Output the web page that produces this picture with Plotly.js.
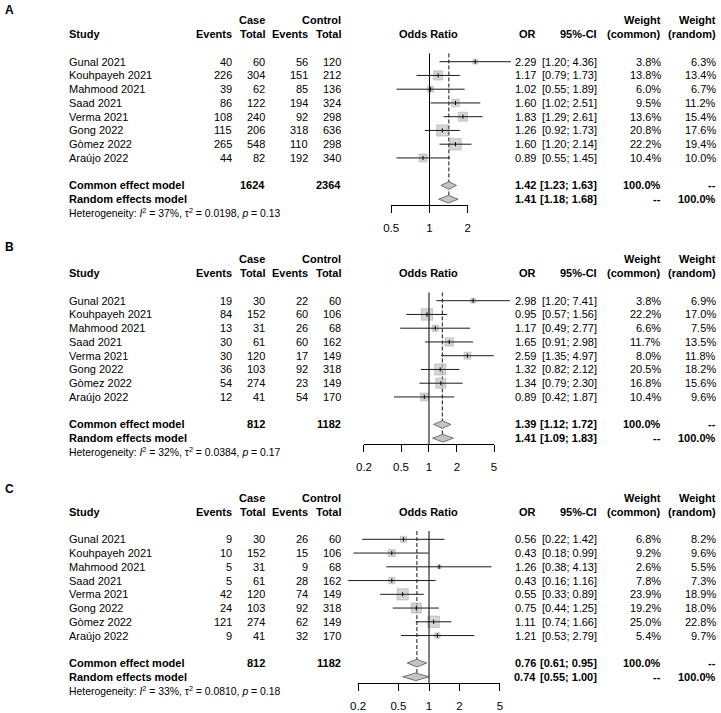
<!DOCTYPE html>
<html><head><meta charset="utf-8">
<script src="https://cdn.plot.ly/plotly-3.0.1.min.js"></script>
<style>body{margin:0;background:#fff}#chart{width:721px;height:713px}</style>
</head><body><div id="chart"></div>
<script>
// ---------- data ----------
const studies = ["Gunal 2021","Kouhpayeh 2021","Mahmood 2021","Saad 2021","Verma 2021","Gong 2022","Gòmez 2022","Araújo 2022"];
const panelLabels = ["A","B","C"];

// Panel A
const caseEventsA = [40,226,39,86,108,115,265,44];
const caseTotalA  = [60,304,62,122,240,206,548,82];
const ctrlEventsA = [56,151,85,194,92,318,110,192];
const ctrlTotalA  = [120,212,136,324,298,636,298,340];
const orA  = [2.29,1.17,1.02,1.60,1.83,1.26,1.60,0.89];
const loA  = [1.20,0.79,0.55,1.02,1.29,0.92,1.20,0.55];
const hiA  = [4.36,1.73,1.89,2.51,2.61,1.73,2.14,1.45];
const wComA = [3.8,13.8,6.0,9.5,13.6,20.8,22.2,10.4];
const wRanA = [6.3,13.4,6.7,11.2,15.4,17.6,19.4,10.0];
const commonA = [1.42,1.23,1.63];
const randomA = [1.41,1.18,1.68];
const totalsA = [1624,2364];
const hetA = ["37%","0.0198","0.13"];
const ticksA = [0.5,1,2];

// Panel B
const caseEventsB = [19,84,13,30,30,36,54,12];
const caseTotalB  = [30,152,31,61,120,103,274,41];
const ctrlEventsB = [22,60,26,60,17,92,23,54];
const ctrlTotalB  = [60,106,68,162,149,318,149,170];
const orB  = [2.98,0.95,1.17,1.65,2.59,1.32,1.34,0.89];
const loB  = [1.20,0.57,0.49,0.91,1.35,0.82,0.79,0.42];
const hiB  = [7.41,1.56,2.77,2.98,4.97,2.12,2.30,1.87];
const wComB = [3.8,22.2,6.6,11.7,8.0,20.5,16.8,10.4];
const wRanB = [6.9,17.0,7.5,13.5,11.8,18.2,15.6,9.6];
const commonB = [1.39,1.12,1.72];
const randomB = [1.41,1.09,1.83];
const totalsB = [812,1182];
const hetB = ["32%","0.0384","0.17"];
const ticksB = [0.2,0.5,1,2,5];

// Panel C
const caseEventsC = [9,10,5,5,42,24,121,9];
const caseTotalC  = [30,152,31,61,120,103,274,41];
const ctrlEventsC = [26,15,9,28,74,92,62,32];
const ctrlTotalC  = [60,106,68,162,149,318,149,170];
const orC  = [0.56,0.43,1.26,0.43,0.55,0.75,1.11,1.21];
const loC  = [0.22,0.18,0.38,0.16,0.33,0.44,0.74,0.53];
const hiC  = [1.42,0.99,4.13,1.16,0.89,1.25,1.66,2.79];
const wComC = [6.8,9.2,2.6,7.8,23.9,19.2,25.0,5.4];
const wRanC = [8.2,9.6,5.5,7.3,18.9,18.0,22.8,9.7];
const commonC = [0.76,0.61,0.95];
const randomC = [0.74,0.55,1.00];
const totalsC = [812,1182];
const hetC = ["33%","0.0810","0.18"];
const ticksC = [0.2,0.5,1,2,5];

const panels = [
  {ce:caseEventsA, ct:caseTotalA, ke:ctrlEventsA, kt:ctrlTotalA, or:orA, lo:loA, hi:hiA, wc:wComA, wr:wRanA, com:commonA, ran:randomA, tot:totalsA, het:hetA, ticks:ticksA},
  {ce:caseEventsB, ct:caseTotalB, ke:ctrlEventsB, kt:ctrlTotalB, or:orB, lo:loB, hi:hiB, wc:wComB, wr:wRanB, com:commonB, ran:randomB, tot:totalsB, het:hetB, ticks:ticksB},
  {ce:caseEventsC, ct:caseTotalC, ke:ctrlEventsC, kt:ctrlTotalC, or:orC, lo:loC, hi:hiC, wc:wComC, wr:wRanC, com:commonC, ran:randomC, tot:totalsC, het:hetC, ticks:ticksC}
];

// ---------- geometry ----------
const W = 721, H = 713;
const FONT = "Liberation Sans, Arial, sans-serif";
const rowH = 13.75;
const firstRowPx = [61.7, 300.7, 539.3];
const labelPx = [10, 247, 488.5];
const axisCenter = [429.5, 429, 429];   // px of OR = 1
const axisK = [127.2, 93, 101.5];       // px per decade
const rTop = -4.2, rBot = 12.6;
const rAxis = 10.45;
const rLineTop = -0.6;
const dataPxL = 342, dataPxR = 516;
const col = {study:68.3, ce:233.3, ct:265.7, ke:309.3, kt:341.7, orHead:428.5, or:537.3, ci:598.3, wc:661.7, wr:716.7};
const sqMax = 11.5;

const traces = [];
const layout = {
  width: W, height: H, margin:{l:0,r:0,t:0,b:0},
  paper_bgcolor:'#fff', plot_bgcolor:'rgba(0,0,0,0)',
  showlegend:false, annotations:[], font:{family:FONT, size:11, color:'#000'}
};

const f2 = v => v.toFixed(2);
const ci = (l,h) => "[" + f2(l) + "; " + f2(h) + "]";
const suf = n => n === 1 ? '' : String(n);

panels.forEach((P, p) => {
  const yd = suf(p+1), yt = suf(p+4), xd = suf(2*p+1), xt = suf(2*p+2);
  const g = firstRowPx[p], c = axisCenter[p], k = axisK[p];
  const pxOf = v => c + k*Math.log10(v);

  layout['yaxis' + yd] = {
    domain:[1 - (g + rBot*rowH)/H, 1 - (g + rTop*rowH)/H],
    range:[rBot, rTop], visible:false, fixedrange:true, anchor:'x' + xd
  };
  layout['yaxis' + yt] = {
    domain:[1 - (g + rAxis*rowH)/H, 1 - (g + rTop*rowH)/H],
    range:[rAxis, rTop], visible:false, fixedrange:true, anchor:'x' + xt
  };
  layout['xaxis' + xd] = {
    type:'log', domain:[dataPxL/W, dataPxR/W],
    range:[(dataPxL - c)/k, (dataPxR - c)/k],
    visible:false, fixedrange:true, anchor:'y' + yd
  };
  const tmin = P.ticks[0], tmax = P.ticks[P.ticks.length-1];
  layout['xaxis' + xt] = {
    type:'log', domain:[pxOf(tmin)/W, pxOf(tmax)/W],
    range:[Math.log10(tmin), Math.log10(tmax)],
    anchor:'y' + yt, side:'bottom',
    showline:true, linecolor:'#000', linewidth:1, mirror:false,
    ticks:'outside', ticklen:7, tickwidth:1, tickcolor:'#000',
    tickvals:P.ticks, ticktext:P.ticks.map(String),
    tickfont:{family:FONT, size:11.5, color:'#000'}, ticklabelstandoff:5,
    showgrid:false, zeroline:false, fixedrange:true
  };

  const rows = studies.map((s,i) => i);
  const rCom = 9, rRan = 10, dh = 0.28;
  const XD = 'x' + xd, YD = 'y' + yd;

  traces.push({type:'scatter', mode:'lines', xaxis:XD, yaxis:YD,
    x:[P.com[0], P.com[0]], y:[rLineTop, rRan - dh], hoverinfo:'skip',
    line:{color:'#111', width:1, dash:'4px,2px'}});
  const wmax = Math.max(...P.wc);
  traces.push({type:'scatter', mode:'markers', xaxis:XD, yaxis:YD,
    x:P.or, y:rows, hoverinfo:'skip',
    marker:{symbol:'square', size:P.wc.map(w => sqMax*Math.sqrt(w/wmax)),
      color:'#c4c4c4', line:{color:'#8f8f8f', width:0.6}}});
  const lx = [], ly = [];
  rows.forEach(i => { lx.push(P.lo[i], P.hi[i], null); ly.push(i, i, null); });
  traces.push({type:'scatter', mode:'lines', xaxis:XD, yaxis:YD,
    x:lx, y:ly, hoverinfo:'skip', line:{color:'#1a1a1a', width:1}});
  traces.push({type:'scatter', mode:'markers', xaxis:XD, yaxis:YD,
    x:P.or, y:rows, hoverinfo:'skip',
    marker:{symbol:'line-ns-open', size:3, color:'#000', line:{color:'#000', width:1}}});
  [[P.com, rCom],[P.ran, rRan]].forEach(([d, r]) => {
    traces.push({type:'scatter', mode:'lines', xaxis:XD, yaxis:YD,
      x:[d[1], d[0], d[2], d[0], d[1]], y:[r, r-dh, r, r+dh, r],
      fill:'toself', fillcolor:'#c4c4c4', line:{color:'#555', width:0.8},
      hoverinfo:'skip'});
  });
  traces.push({type:'scatter', mode:'lines', xaxis:'x' + xt, yaxis:'y' + yt,
    x:[1,1], y:[rLineTop, rAxis], hoverinfo:'skip', line:{color:'#000', width:1}});

  // ---------- text ----------
  const A = layout.annotations;
  const txt = (xpx, r, text, anchor, size) => A.push({
    xref:'paper', yref:YD, x:xpx/W, y:r, text:text, xanchor:anchor, yanchor:'middle',
    showarrow:false, borderpad:0, font:{family:FONT, size:size||11, color:'#000'}
  });
  const b = s => "<b>" + s + "</b>";

  A.push({xref:'paper', yref:'paper', x:4/W, y:1 - labelPx[p]/H, text:b(panelLabels[p]),
    xanchor:'left', yanchor:'middle', showarrow:false, borderpad:0,
    font:{family:FONT, size:12, color:'#000'}});

  txt(col.ct, -3, b("Case"), 'right');
  txt(col.kt, -3, b("Control"), 'right');
  txt(col.wc, -3, b("Weight"), 'right');
  txt(col.wr, -3, b("Weight"), 'right');
  txt(col.study, -2, b("Study"), 'left');
  txt(col.ce, -2, b("Events"), 'right');
  txt(col.ct, -2, b("Total"), 'right');
  txt(col.ke, -2, b("Events"), 'right');
  txt(col.kt, -2, b("Total"), 'right');
  txt(col.orHead, -2, b("Odds Ratio"), 'center');
  txt(col.or, -2, b("OR"), 'right');
  txt(col.ci, -2, b("95%-CI"), 'right');
  txt(col.wc, -2, b("(common)"), 'right');
  txt(col.wr, -2, b("(random)"), 'right');

  rows.forEach(i => {
    txt(col.study, i, studies[i], 'left');
    txt(col.ce, i, String(P.ce[i]), 'right');
    txt(col.ct, i, String(P.ct[i]), 'right');
    txt(col.ke, i, String(P.ke[i]), 'right');
    txt(col.kt, i, String(P.kt[i]), 'right');
    txt(col.or, i, f2(P.or[i]), 'right');
    txt(col.ci, i, ci(P.lo[i], P.hi[i]), 'right');
    txt(col.wc, i, P.wc[i].toFixed(1) + "%", 'right');
    txt(col.wr, i, P.wr[i].toFixed(1) + "%", 'right');
  });

  txt(col.study, rCom, b("Common effect model"), 'left');
  txt(col.ct, rCom, b(String(P.tot[0])), 'right');
  txt(col.kt, rCom, b(String(P.tot[1])), 'right');
  txt(col.or, rCom, b(f2(P.com[0])), 'right');
  txt(col.ci, rCom, b(ci(P.com[1], P.com[2])), 'right');
  txt(col.wc, rCom, b("100.0%"), 'right');
  txt(col.wr, rCom, b("--"), 'right');

  txt(col.study, rRan, b("Random effects model"), 'left');
  txt(col.or, rRan, b(f2(P.ran[0])), 'right');
  txt(col.ci, rRan, b(ci(P.ran[1], P.ran[2])), 'right');
  txt(col.wc, rRan, b("--"), 'right');
  txt(col.wr, rRan, b("100.0%"), 'right');

  txt(col.study, 11, "Heterogeneity: <i>I</i><sup>2</sup> = " + P.het[0] + ", τ<sup>2</sup> = " + P.het[1] + ", <i>p</i> = " + P.het[2], 'left', 10.4);
});

Plotly.newPlot('chart', traces, layout, {staticPlot:true, displayModeBar:false});
</script>
</body></html>
